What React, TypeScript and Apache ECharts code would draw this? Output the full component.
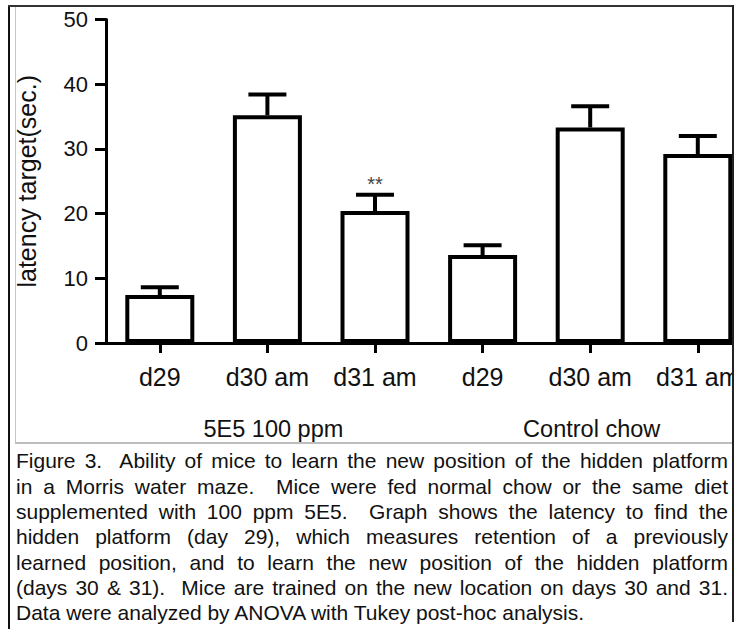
import React, { useEffect, useRef } from "react";
import * as echarts from "echarts";

const categories = ["d29", "d30 am", "d31 am", "d29", "d30 am", "d31 am"];
const groups = ["5E5 100 ppm", "Control chow"];
const meanLatency = [7.4, 35.2, 20.4, 13.6, 33.3, 29.2];
const semLatency = [1.2, 3.2, 2.5, 1.5, 3.3, 2.8];
const significance = ["", "", "**", "", "", ""];
const yMin = 0;
const yMax = 50;
const yInterval = 10;
const yAxisTitle = "latency target(sec.)";
const captionLines = [
  "Figure 3.\u00a0 Ability of mice to learn the new position of the hidden platform",
  "in a Morris water maze.\u00a0 Mice were fed normal chow or the same diet",
  "supplemented with 100 ppm 5E5.\u00a0 Graph shows the latency to find the",
  "hidden platform (day 29), which measures retention of a previously",
  "learned position, and to learn the new position of the hidden platform",
  "(days 30 & 31).\u00a0 Mice are trained on the new location on days 30 and 31.",
  "Data were analyzed by ANOVA with Tukey post-hoc analysis.",
];

const FONT = '"Liberation Sans", Arial, Helvetica, sans-serif';

export default function App() {
  const ref = useRef<HTMLDivElement>(null);

  useEffect(() => {
    if (!ref.current) return;
    const chart = echarts.init(ref.current, undefined, { renderer: "svg" });
    const errData = meanLatency.map((m, i) => [i, m, semLatency[i]]);
    chart.setOption({
      animation: false,
      backgroundColor: "transparent",
      grid: {
        left: 106,
        right: 8.4,
        top: 19.5,
        bottom: 100,
        containLabel: false,
        outerBoundsMode: "none",
      },
      xAxis: [
        {
          type: "category",
          data: categories,
          position: "bottom",
          axisLine: { show: true, lineStyle: { color: "#000", width: 3 } },
          axisTick: {
            show: true,
            alignWithLabel: true,
            length: 10,
            lineStyle: { color: "#000", width: 3 },
          },
          axisLabel: {
            color: "#111",
            fontSize: 25,
            fontFamily: FONT,
            margin: 21,
            interval: 0,
          },
          splitLine: { show: false },
        },
        {
          type: "category",
          data: [
            { value: groups[0], textStyle: { padding: [0, 0, 0, 12] } },
            { value: groups[1], textStyle: { padding: [0, 0, 0, 3] } },
          ],
          position: "bottom",
          offset: 60,
          axisLine: { show: false },
          axisTick: { show: false },
          axisLabel: {
            color: "#111",
            fontSize: 23.5,
            fontFamily: FONT,
            margin: 14,
            interval: 0,
          },
          splitLine: { show: false },
        },
      ],
      yAxis: {
        type: "value",
        min: yMin,
        max: yMax,
        interval: yInterval,
        name: yAxisTitle,
        nameLocation: "middle",
        nameRotate: 90,
        nameGap: 67,
        nameTextStyle: { color: "#111", fontSize: 25, fontFamily: FONT },
        axisLine: { show: true, lineStyle: { color: "#000", width: 3 } },
        axisTick: { show: true, length: 11, lineStyle: { color: "#000", width: 3 } },
        axisLabel: { color: "#111", fontSize: 22, fontFamily: FONT, margin: 18 },
        splitLine: { show: false },
      },
      series: [
        {
          type: "bar",
          xAxisIndex: 0,
          data: meanLatency,
          barWidth: 69,
          itemStyle: { color: "#fff", borderColor: "#000", borderWidth: 4 },
          z: 2,
        },
        {
          type: "custom",
          xAxisIndex: 0,
          data: errData,
          encode: { x: 0, y: 1 },
          z: 3,
          renderItem: (params: any, api: any) => {
            const idx = api.value(0);
            const mean = api.value(1);
            const err = api.value(2);
            const top = api.coord([idx, mean]);
            const hi = api.coord([idx, mean + err]);
            const half = 19;
            const children: any[] = [
              {
                type: "line",
                shape: { x1: top[0], y1: top[1], x2: hi[0], y2: hi[1] },
                style: { stroke: "#000", lineWidth: 4 },
              },
              {
                type: "line",
                shape: { x1: hi[0] - half, y1: hi[1], x2: hi[0] + half, y2: hi[1] },
                style: { stroke: "#000", lineWidth: 4 },
              },
            ];
            const sig = significance[params.dataIndex];
            if (sig) {
              children.push({
                type: "text",
                x: hi[0],
                y: hi[1] - 1,
                style: {
                  text: sig,
                  fill: "#444",
                  fontSize: 20,
                  fontFamily: FONT,
                  align: "center",
                  verticalAlign: "bottom",
                },
              });
            }
            return { type: "group", children };
          },
        },
      ],
    });
    return () => chart.dispose();
  }, []);

  const line = (color: string, l: number, t: number, w: number, h: number) => (
    <div style={{ position: "absolute", left: l, top: t, width: w, height: h, background: color }} />
  );

  return (
    <div
      style={{
        position: "absolute",
        left: 0,
        top: 0,
        width: 739,
        height: 629,
        background: "#fff",
        overflow: "hidden",
        fontFamily: FONT,
      }}
    >
      <div style={{ position: "absolute", left: 0, top: 0, width: 733, height: 442, overflow: "hidden" }}>
        <div ref={ref} style={{ width: 760, height: 443 }} />
      </div>
      {line("#c4c4c4", 15, 6, 1, 437)}
      {line("#bdbdbd", 15, 442, 718, 2)}
      {line("#111", 8, 5, 2, 624)}
      {line("#333", 8, 5, 726, 1.5)}
      {line("#222", 732, 5, 1.5, 617)}
      <div style={{ position: "absolute", left: 16, top: 448.4, width: 712, color: "#111" }}>
        {captionLines.map((t, i) => (
          <div
            key={i}
            style={{
              height: 25.3,
              lineHeight: "25.3px",
              fontSize: 21,
              whiteSpace: "nowrap",
              textAlign: i < captionLines.length - 1 ? "justify" : "left",
              textAlignLast: i < captionLines.length - 1 ? "justify" : "left",
            } as any}
          >
            {t}
          </div>
        ))}
      </div>
    </div>
  );
}
